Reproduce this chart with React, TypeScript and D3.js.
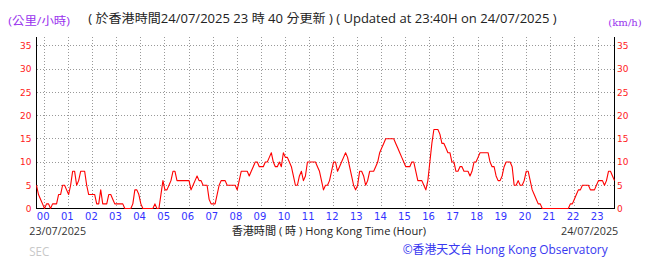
import React from "react";
import * as d3 from "d3";

// 5-minute wind speed (km/h) from 23:40 on 23/07/2025 to 23:40 on 24/07/2025
const START_MINUTE = -20;
const STEP_MINUTES = 5;
const windSpeed: number[] = [
  5, 3, 2, 1,
  0, 1, 1, 0, 1, 1, 1, 3, 3, 5, 5, 4, // 00
  3, 5, 8, 8, 5, 6, 8, 8, 8, 5, 3, 3, // 01
  3, 3, 1, 1, 4, 1, 1, 1, 3, 3, 2, 1, // 02
  1, 1, 1, 1, 0, 0, 0, 0, 1, 4, 4, 3, // 03
  1, 0, 0, 0, 0, 0, 0, 1, 0, 0, 3, 6, // 04
  4, 4, 5, 6, 8, 8, 6, 6, 6, 6, 6, 6, // 05
  6, 4, 5, 6, 7, 6, 6, 5, 5, 5, 2, 1, // 06
  1, 1, 3, 5, 6, 6, 6, 5, 5, 5, 5, 5, // 07
  4, 6, 8, 8, 8, 8, 7, 8, 9, 10, 10, 9, // 08
  9, 9, 10, 10, 11, 12, 10, 9, 9, 10, 9, 12, // 09
  11, 11, 10, 9, 7, 5, 5, 7, 8, 6, 7, 10, // 10
  10, 10, 10, 10, 9, 8, 6, 4, 5, 5, 6, 8, // 11
  10, 10, 8, 9, 10, 11, 12, 11, 9, 7, 5, 4, // 12
  5, 8, 8, 7, 5, 6, 8, 8, 8, 9, 10, 12, // 13
  13, 14, 15, 15, 15, 15, 15, 14, 13, 12, 11, 10, // 14
  9, 9, 9, 10, 10, 8, 6, 6, 6, 5, 4, 6, // 15
  10, 14, 17, 17, 17, 16, 14, 14, 13, 12, 12, 10, // 16
  10, 8, 8, 9, 9, 8, 8, 8, 7, 8, 10, 10, // 17
  11, 12, 12, 12, 12, 12, 10, 9, 9, 7, 6, 6, // 18
  7, 9, 10, 10, 10, 9, 5, 5, 6, 5, 5, 6, // 19
  8, 8, 6, 4, 3, 2, 1, 1, 0, 0, 0, 0, // 20
  0, 0, 0, 0, 0, 0, 0, 0, 0, 0, 1, 1, // 21
  2, 3, 4, 4, 5, 5, 5, 5, 4, 4, 4, 5, // 22
  6, 6, 6, 5, 6, 8, 8, 7, 6, // 23
];

const hourLabels = [
  "00", "01", "02", "03", "04", "05", "06", "07", "08", "09", "10", "11",
  "12", "13", "14", "15", "16", "17", "18", "19", "20", "21", "22", "23",
];
const speedTicks = [0, 5, 10, 15, 20, 25, 30, 35];

const titleText = "( 於香港時間24/07/2025 23 時 40 分更新 ) ( Updated at 23:40H on 24/07/2025 )";
const unitLeft = "(公里/小時)";
const unitRight = "(km/h)";
const startDate = "23/07/2025";
const endDate = "24/07/2025";
const xTitle = "香港時間 ( 時 ) Hong Kong Time (Hour)";
const station = "SEC";
const credit = "©香港天文台 Hong Kong Observatory";

const W = 655;
const H = 259;

export default function App() {
  const x = d3.scaleLinear().domain([-20, 1420]).range([36.5, 614.5]);
  const y = d3.scaleLinear().domain([0, 37]).range([208.5, 36.5]);
  const crisp = (v: number) => Math.floor(v) + 0.5;

  const line = d3
    .line<number>()
    .x((_, i) => x(START_MINUTE + i * STEP_MINUTES))
    .y((d) => y(d));

  const sans = "'Open Sans', 'Noto Sans CJK TC', sans-serif";
  const tickFont = "'DejaVu Sans', sans-serif";
  const top = 36.5;
  const bottom = y(0);
  const left = x.range()[0];
  const right = x.range()[1];

  return (
    <svg
      width={W}
      height={H}
      viewBox={`0 0 ${W} ${H}`}
      style={{ position: "absolute", left: 0, top: 0, display: "block", background: "#fff" }}
    >
      <rect x={0} y={0} width={W} height={H} fill="#fff" />

      {/* grid */}
      <g stroke="#999" strokeWidth={1} strokeDasharray="1,2" shapeRendering="crispEdges">
        {speedTicks.filter((v) => v > 0).map((v) => (
          <line key={"h" + v} x1={left} x2={right} y1={crisp(y(v))} y2={crisp(y(v))} />
        ))}
        {hourLabels.map((h, i) => (
          <line key={"v" + h} x1={crisp(x(i * 60))} x2={crisp(x(i * 60))} y1={top} y2={bottom} />
        ))}
      </g>

      {/* axes */}
      <g stroke="#000" strokeWidth={1} shapeRendering="crispEdges">
        <line x1={left} x2={left} y1={top} y2={bottom} />
        <line x1={right} x2={right} y1={top} y2={bottom} />
        <line x1={left} x2={right} y1={bottom} y2={bottom} />
      </g>

      {/* data line */}
      <path d={line(windSpeed) || ""} fill="none" stroke="#ff0000" strokeWidth={1.1} strokeLinejoin="round" />

      {/* y tick labels */}
      <g fill="#ff2020" fontFamily={tickFont} fontSize={9}>
        {speedTicks.map((v) => (
          <text key={"l" + v} x={31.5} y={y(v) + 3.4} textAnchor="end">
            {v}
          </text>
        ))}
        {speedTicks.map((v) => (
          <text key={"r" + v} x={617} y={y(v) + 3.4} textAnchor="start">
            {v}
          </text>
        ))}
      </g>

      {/* x tick labels */}
      <g fill="#3333ff" fontFamily={tickFont} fontSize={10}>
        {hourLabels.map((h, i) => (
          <text key={"x" + h} x={x(i * 60) - 1.3} y={219.6} textAnchor="middle">
            {h}
          </text>
        ))}
      </g>

      {/* titles */}
      <text x={8.3} y={25} fill="#9933ee" fontFamily={sans} fontSize={11} textLength={61.7} lengthAdjust="spacingAndGlyphs">
        {unitLeft}
      </text>
      <text x={88.3} y={22.7} fill="#222" fontFamily={sans} fontSize={12} textLength={468.4} lengthAdjust="spacingAndGlyphs">
        {titleText}
      </text>
      <text x={608.3} y={26} fill="#9933ee" fontFamily="'DejaVu Serif', serif" fontSize={10} textLength={33.4} lengthAdjust="spacingAndGlyphs">
        {unitRight}
      </text>

      {/* bottom texts */}
      <text x={29.3} y={235} fill="#333" fontFamily={sans} fontSize={11.5} textLength={56.7} lengthAdjust="spacingAndGlyphs">
        {startDate}
      </text>
      <text x={231.7} y={235} fill="#222" fontFamily={sans} fontSize={11.5} textLength={194.3} lengthAdjust="spacingAndGlyphs">
        {xTitle}
      </text>
      <text x={561} y={235} fill="#333" fontFamily={sans} fontSize={11.5} textLength={57.3} lengthAdjust="spacingAndGlyphs">
        {endDate}
      </text>
      <text x={29.3} y={255.5} fill="#c8c8c8" fontFamily={sans} fontSize={12} textLength={20} lengthAdjust="spacingAndGlyphs">
        {station}
      </text>
      <text x={402.7} y={253.5} fill="#3838f0" fontFamily={sans} fontSize={12.5} textLength={205} lengthAdjust="spacingAndGlyphs">
        {credit}
      </text>
    </svg>
  );
}
